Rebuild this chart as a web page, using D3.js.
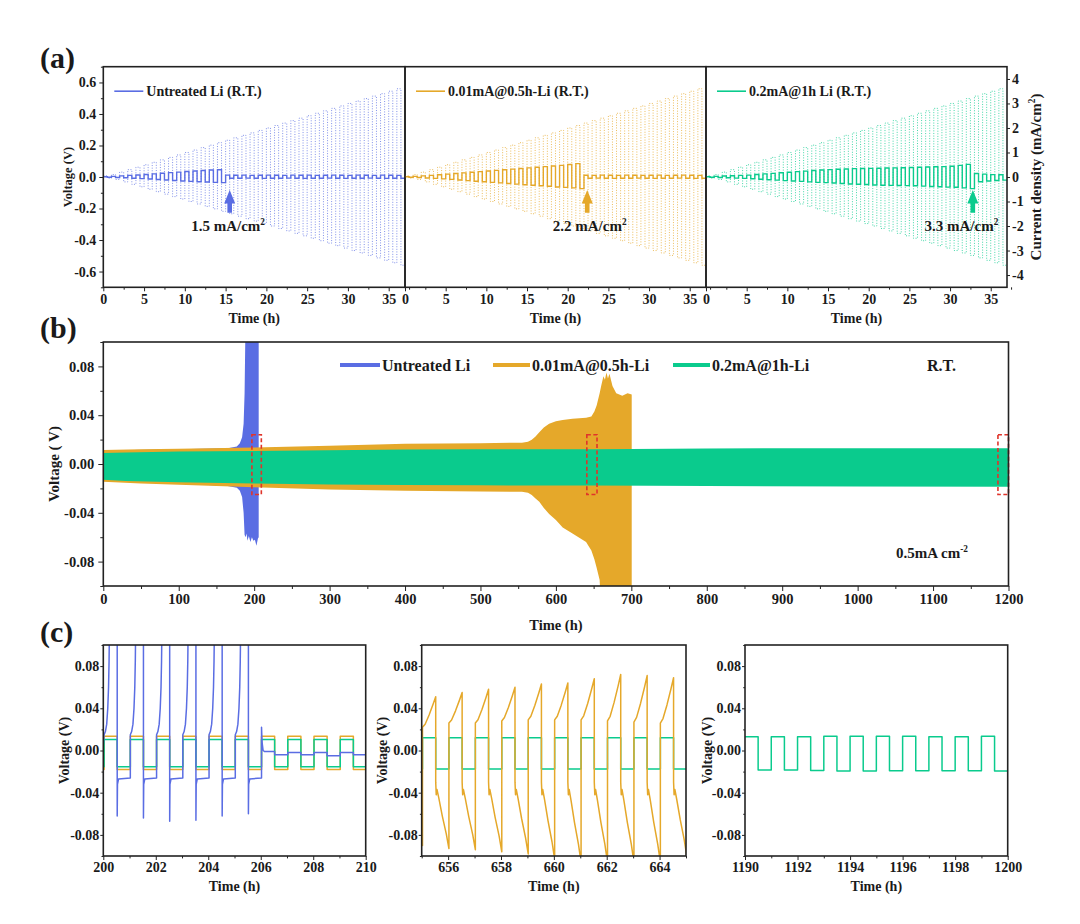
<!DOCTYPE html>
<html><head><meta charset="utf-8">
<script src="https://cdn.jsdelivr.net/npm/d3@7/dist/d3.min.js"></script>
<style>
body{margin:0;background:#fff;}
svg text{font-family:"Liberation Serif","Times New Roman",serif;font-weight:bold;fill:#1a1a1a;}
</style></head>
<body><svg id="chart" width="1080" height="924"></svg>
<script>
// ================= DATA =================
const seriesNames = ["Untreated Li", "0.01mA@0.5h-Li", "0.2mA@1h-Li"];
const seriesColors = ["#5A6DE3", "#E5A82A", "#0ACB8D"];
const rateLegend = ["Untreated Li (R.T.)", "0.01mA@0.5h-Li (R.T.)", "0.2mA@1h Li (R.T.)"];
const criticalText = ["1.5 mA/cm", "2.2 mA/cm", "3.3 mA/cm"];
const criticalTime = [15.5, 22.4, 32.8];
const criticalLabelTime = [15.3, 22.7, 31.4];

// (a) rate test: current density per 1-h cycle (mA/cm2)
const rateCurrent = [0.05,0.1,0.2,0.3,0.4,0.5,0.6,0.7,0.8,0.9,1.0,1.1,1.2,1.3,1.4,1.5,1.6,1.7,1.8,1.9,2.0,2.1,2.2,2.3,2.4,2.5,2.6,2.7,2.8,2.9,3.0,3.1,3.2,3.3,3.4,3.5,3.6];
// (a) voltage plateaus per cycle (V)
const rateHighUntreated = [0.002,0.004,0.007,0.010,0.013,0.016,0.020,0.024,0.028,0.031,0.035,0.038,0.041,0.044,0.046,
  0.012,0.011,0.012,0.010,0.011,0.012,0.011,0.010,0.012,0.011,0.012,0.010,0.011,0.012,0.011,0.010,0.012,0.011,0.010,0.012,0.011,0.010];
const rateLowUntreated = [-0.002,-0.003,-0.005,-0.008,-0.010,-0.013,-0.016,-0.019,-0.022,-0.025,-0.028,-0.030,-0.032,-0.034,-0.036,
  -0.008,-0.008,-0.007,-0.008,-0.009,-0.008,-0.008,-0.007,-0.008,-0.009,-0.008,-0.008,-0.007,-0.008,-0.009,-0.008,-0.008,-0.007,-0.008,-0.009,-0.008,-0.008];
const rateHighMid = [0.002,0.004,0.007,0.010,0.014,0.018,0.022,0.026,0.030,0.034,0.038,0.042,0.046,0.050,0.054,0.058,0.062,0.066,0.070,0.074,0.079,0.085,
  0.011,0.010,0.012,0.011,0.010,0.012,0.011,0.010,0.011,0.012,0.010,0.011,0.012,0.011,0.010];
const rateLowMid = [-0.002,-0.003,-0.006,-0.009,-0.012,-0.015,-0.019,-0.023,-0.027,-0.030,-0.034,-0.037,-0.041,-0.045,-0.049,-0.052,-0.056,-0.059,-0.063,-0.066,-0.069,-0.074,
  -0.008,-0.007,-0.008,-0.009,-0.008,-0.008,-0.007,-0.008,-0.009,-0.008,-0.008,-0.007,-0.008,-0.009,-0.008];
const rateHighTreated = [0.002,0.004,0.006,0.008,0.010,0.012,0.016,0.020,0.023,0.027,0.030,0.034,0.037,0.041,0.044,0.047,0.049,0.051,0.053,0.054,
  0.055,0.056,0.057,0.058,0.059,0.060,0.062,0.063,0.065,0.066,0.068,0.074,0.080,0.022,0.018,0.015,0.014];
const rateLowTreated = [-0.002,-0.003,-0.005,-0.007,-0.009,-0.011,-0.014,-0.017,-0.020,-0.023,-0.025,-0.028,-0.031,-0.034,-0.036,-0.038,-0.041,-0.044,-0.046,-0.048,
  -0.051,-0.052,-0.053,-0.054,-0.055,-0.056,-0.058,-0.060,-0.062,-0.064,-0.065,-0.069,-0.074,-0.030,-0.025,-0.022,-0.020];

const aTimeTicks = [0,5,10,15,20,25,30,35];
const aVoltTicks = [-0.6,-0.4,-0.2,0,0.2,0.4,0.6];
const aCurrentTicks = [-4,-3,-2,-1,0,1,2,3,4];

// (b) long cycling envelopes: [time h, upper V, lower V]
const bandUntreated = [[0,0.011,-0.014],[100,0.012,-0.016],[165,0.013,-0.018],[177,0.0143,-0.0195],[181,0.017,-0.022],[184,0.022,-0.027],
  [186,0.033,-0.040],[187.3,0.058,-0.058],[188.6,0.12,-0.060],[190,0.12,-0.057],[191,0.12,-0.063],[193,0.12,-0.059],[195,0.12,-0.064],
  [197,0.12,-0.060],[199,0.12,-0.063],[201,0.12,-0.062],[203,0.12,-0.067],[205,0.12,-0.061],[206,0.12,-0.060]];
const bandMid = [[0,0.0115,-0.0145],[50,0.012,-0.016],[100,0.0125,-0.017],[200,0.0135,-0.019],[300,0.015,-0.021],[400,0.0165,-0.022],
  [500,0.017,-0.0225],[555,0.0175,-0.0228],[563,0.0182,-0.0235],[568,0.0198,-0.0255],[573,0.0225,-0.0282],[578,0.026,-0.031],
  [584,0.030,-0.036],[591,0.0330,-0.041],[600,0.035,-0.046],[609,0.036,-0.052],
  [622,0.037,-0.057],[640,0.038,-0.064],[647,0.039,-0.071],[651,0.043,-0.078],[654,0.048,-0.085],[658,0.058,-0.095],[660,0.064,-0.12],
  [663,0.072,-0.12],[665,0.069,-0.12],[667,0.075,-0.12],[669,0.070,-0.12],[671,0.074,-0.12],[675,0.064,-0.12],[680,0.058,-0.12],
  [688,0.056,-0.12],[695,0.058,-0.12],[700.5,0.057,-0.12]];
const bandTreated = [[0,0.009,-0.013],[30,0.0095,-0.014],[100,0.0102,-0.015],[200,0.0107,-0.016],[300,0.0113,-0.0168],[400,0.0118,-0.0172],
  [500,0.012,-0.0175],[650,0.012,-0.0176],[800,0.0128,-0.018],[1000,0.013,-0.0185],[1200,0.013,-0.0186]];
const zoomWindows = [[197,209.5],[641,654.5],[1186,1200]];
const zoomWindowVolt = [-0.025, 0.024];
const bTimeTicks = [0,100,200,300,400,500,600,700,800,900,1000,1100,1200];
const bVoltTicks = [-0.08,-0.04,0,0.04,0.08];

// (c) zoomed voltage profiles
const c1Cycles = [199,200,201,202,203,204,205,206,207,208,209];
const c1MidHigh = 0.0135, c1MidLow = -0.018;
const c1TreatedHigh = 0.0105, c1TreatedLow = -0.0155;
const c1BlueSpikeCycles = [200,201,202,203,204,205];
const c1BlueSpikeLow = [-0.062,-0.064,-0.067,-0.066,-0.062,-0.060];
const c1BluePlateau = -0.026;
const c1BlueRise = [[0,0.015],[0.05,0.018],[0.10,0.025],[0.14,0.040],[0.17,0.060],[0.19,0.085],[0.21,0.13],[0.50,0.13]];
const c1BluePostCycles = [206,207,208,209];
const c1BluePostHigh = [-0.001,-0.002,-0.002,-0.002];
const c1BluePostLow = [-0.004,-0.004,-0.005,-0.004];
const c1BluePostSpike = 0.022;

const c2Cycles = [654,655,656,657,658,659,660,661,662,663,664];
const c2SawStart = [0.022,0.022,0.026,0.026,0.028,0.029,0.029,0.029,0.028,0.027,0.026];
const c2SawPeak = [0.050,0.051,0.055,0.058,0.060,0.063,0.064,0.068,0.072,0.071,0.069];
const c2SawMin = [-0.090,-0.093,-0.094,-0.096,-0.098,-0.103,-0.106,-0.106,-0.106,-0.106,-0.100];
const c2TreatedHigh = 0.012, c2TreatedLow = -0.0176;

const c3Cycles = [1190,1191,1192,1193,1194,1195,1196,1197,1198,1199];
const c3TreatedHigh = [0.013,0.013,0.013,0.0135,0.0135,0.0135,0.0135,0.013,0.013,0.0135];
const c3TreatedLow = [-0.0186,-0.0186,-0.019,-0.0195,-0.0195,-0.0192,-0.0192,-0.0192,-0.0192,-0.0195];

const cTicks = [[200,202,204,206,208,210],[656,658,660,662,664],[1190,1192,1194,1196,1198,1200]];
const cDomains = [[200,210],[655,665],[1190,1200]];
const cVoltTicks = [-0.08,-0.04,0,0.04,0.08];

// ================= HELPERS =================
const FONT = '"Liberation Serif","Times New Roman",serif';
const svg = d3.select("#chart");
const defs = svg.append("defs");
let clipN = 0;
function clip(x0,y0,x1,y1){
  const id = "clip"+(clipN++);
  defs.append("clipPath").attr("id",id).append("rect").attr("x",x0).attr("y",y0).attr("width",x1-x0).attr("height",y1-y0);
  return `url(#${id})`;
}
function addText(x,y,str,size,anchor,rot){
  const t = svg.append("text").attr("x",x).attr("y",y).attr("font-size",size).attr("text-anchor",anchor||"start").text(str);
  if(rot) t.attr("transform",`rotate(-90,${x},${y})`);
  return t;
}
function supText(x,y,parts,size,anchor,rot){
  const t = svg.append("text").attr("x",x).attr("y",y).attr("font-size",size).attr("text-anchor",anchor||"start");
  let up = false;
  parts.forEach(([s,sup])=>{
    const sp = t.append("tspan").text(s);
    if(sup && !up){ sp.attr("font-size",size*0.62).attr("dy",-size*0.4); up=true; }
    else if(!sup && up){ sp.attr("dy",size*0.4); up=false; }
    else if(sup) sp.attr("font-size",size*0.62);
  });
  if(rot) t.attr("transform",`rotate(-90,${x},${y})`);
  return t;
}
function drawAxis(kind, scale, pos, ticks, fmt, size, pad, fontSize, minor){
  const mk = kind==="bottom"?d3.axisBottom:kind==="left"?d3.axisLeft:d3.axisRight;
  const tr = kind==="bottom"?`translate(0,${pos})`:`translate(${pos},0)`;
  if(minor){
    const gm = svg.append("g").attr("transform",tr).call(mk(scale).tickValues(minor).tickSize(size*0.6).tickFormat(""));
    gm.select(".domain").remove();
    gm.selectAll("line").attr("stroke","#222").attr("stroke-width",1);
  }
  const g = svg.append("g").attr("transform",tr)
    .call(mk(scale).tickValues(ticks).tickSize(size).tickPadding(pad).tickFormat(fmt));
  g.attr("font-family", FONT);
  g.select(".domain").remove();
  g.selectAll("line").attr("stroke","#222").attr("stroke-width",1);
  g.selectAll("text").attr("font-size",fontSize).attr("fill","#1a1a1a").attr("font-family",FONT).attr("font-weight","bold");
  return g;
}
function frame(x0,y0,x1,y1){
  svg.append("rect").attr("x",x0).attr("y",y0).attr("width",x1-x0).attr("height",y1-y0)
    .attr("fill","none").attr("stroke","#222").attr("stroke-width",1.6);
}
function squarePoints(highs, lows, start, offset){
  const pts = [];
  highs.forEach((h,i)=>{ pts.push([start+i+offset, h]); pts.push([start+i+offset+0.5, lows[i]]); });
  pts.push([start+highs.length+offset, lows[lows.length-1]]);
  return pts;
}
const fmt1 = d => d.toFixed(1);
const fmt2 = d => d.toFixed(2);
const fmtInt = d => String(d);
const minorBetween = (a,b,step) => d3.range(a, b+step/2, step);

// ================= PANEL (a) =================
const A = {top:66.7, bottom:287.3, xs:[[103.3,405],[405,706],[706,1007]], tmax:37};
const yV = d3.scaleLinear().domain([-0.7,0.7]).range([A.bottom, A.top]);
const yI = d3.scaleLinear().domain([-4.5,4.5]).range([A.bottom, A.top]);
const aVolt = [[rateHighUntreated,rateLowUntreated],[rateHighMid,rateLowMid],[rateHighTreated,rateLowTreated]];

aVolt.forEach(([hi,lo],i)=>{
  const [x0,x1] = A.xs[i];
  const x = d3.scaleLinear().domain([0,A.tmax]).range([x0,x1]);
  const col = seriesColors[i];
  const g = svg.append("g").attr("clip-path", clip(x0,A.top,x1,A.bottom));
  const cur = squarePoints(rateCurrent, rateCurrent.map(v=>-v), 0, 0);
  g.append("path").attr("d", d3.line().x(d=>x(d[0])).y(d=>yI(d[1])).curve(d3.curveStepAfter)(cur))
    .attr("fill","none").attr("stroke",col).attr("stroke-width",1).attr("stroke-dasharray","1,1.6").attr("opacity",0.75);
  const vp = squarePoints(hi, lo, 0, 0);
  g.append("path").attr("d", d3.line().x(d=>x(d[0])).y(d=>yV(d[1])).curve(d3.curveStepAfter)(vp))
    .attr("fill","none").attr("stroke",col).attr("stroke-width",1.4);
  frame(x0,A.top,x1,A.bottom);
  drawAxis("bottom", x, A.bottom, aTimeTicks, fmtInt, 4, 3, 14, minorBetween(2.5,37,5));
  addText((x0+x1)/2, 323, "Time (h)", 14, "middle");
  svg.append("line").attr("x1",x0+11).attr("x2",x0+40).attr("y1",A.top+24.5).attr("y2",A.top+24.5)
    .attr("stroke",col).attr("stroke-width",1.6);
  addText(x0+43, A.top+29.5, rateLegend[i], 14, "start");
  const ax = x(criticalTime[i]);
  const tip = yV(-0.083), hb = yV(-0.168), tail = yV(-0.227);
  const p = d3.path();
  p.moveTo(ax, tip); p.lineTo(ax+5.5, hb); p.lineTo(ax+2.3, hb); p.lineTo(ax+2.3, tail);
  p.lineTo(ax-2.3, tail); p.lineTo(ax-2.3, hb); p.lineTo(ax-5.5, hb); p.closePath();
  svg.append("path").attr("d", p.toString()).attr("fill", col);
  supText(x(criticalLabelTime[i]), yV(-0.34), [[criticalText[i],false],["2",true]], 15, "middle");
});
{
  drawAxis("left", yV, A.xs[0][0], aVoltTicks, fmt1, 4, 3, 14, minorBetween(-0.7,0.7,0.1).filter(v=>Math.abs(Math.round(v*10))%2===1));
  drawAxis("right", yI, A.xs[2][1], aCurrentTicks, fmtInt, 3, 2, 14);
  addText(72, (A.top+A.bottom)/2, "Voltage (V)", 12.5, "middle", true);
  supText(1041, (A.top+A.bottom)/2, [["Current density (mA/cm",false],["2",true],[")",false]], 15, "middle", true);
}
addText(40, 67.5, "(a)", 30, "start");

// ================= PANEL (b) =================
const B = {left:103.3, right:1008.5, top:342, bottom:586};
const xB = d3.scaleLinear().domain([0,1200]).range([B.left,B.right]);
const yB = d3.scaleLinear().domain([-0.1,0.1]).range([B.bottom,B.top]);
const area = d3.area().x(d=>xB(d[0])).y0(d=>yB(d[2])).y1(d=>yB(d[1]));
const gb = svg.append("g").attr("clip-path", clip(B.left,B.top,B.right,B.bottom));
[bandUntreated, bandMid, bandTreated].forEach((band,i)=>{
  gb.append("path").attr("d", area(band)).attr("fill", seriesColors[i]);
});
zoomWindows.forEach(([t0,t1])=>{
  svg.append("rect").attr("x",xB(t0)).attr("y",yB(zoomWindowVolt[1])).attr("width",xB(t1)-xB(t0))
    .attr("height",yB(zoomWindowVolt[0])-yB(zoomWindowVolt[1]))
    .attr("fill","none").attr("stroke","#E0342B").attr("stroke-width",1.6).attr("stroke-dasharray","4,2.5");
});
frame(B.left,B.top,B.right,B.bottom);
drawAxis("bottom", xB, B.bottom, bTimeTicks, fmtInt, 5, 3, 14.5, minorBetween(50,1150,100));
drawAxis("left", yB, B.left, bVoltTicks, fmt2, 5, 4, 14.5, [-0.1,-0.06,-0.02,0.02,0.06,0.1]);
addText(59, (B.top+B.bottom)/2, "Voltage ( V)", 15, "middle", true);
addText((B.left+B.right)/2, 630, "Time (h)", 14.5, "middle");
const bLegendX = [[340,380],[493,530],[673,710]];
seriesNames.forEach((n,i)=>{
  svg.append("line").attr("x1",bLegendX[i][0]).attr("x2",bLegendX[i][1]).attr("y1",365).attr("y2",365)
    .attr("stroke",seriesColors[i]).attr("stroke-width",4);
  addText(bLegendX[i][1]+2, 370.5, n, 16, "start");
});
addText(927, 370.5, "R.T.", 16, "start");
supText(896, 558, [["0.5mA cm",false],["-2",true]], 15, "start");
addText(40, 337.5, "(b)", 30, "start");

// ================= PANEL (c) =================
const C = {top:645, bottom:856, xs:[[103.3,365.7],[421.7,686],[745,1007.7]]};
const yC = d3.scaleLinear().domain([-0.1,0.1]).range([C.bottom,C.top]);
const cTitleX = [69, 387, 712];
const cLine = (x)=>d3.line().x(d=>x(d[0])).y(d=>yC(d[1]));

C.xs.forEach(([x0,x1],i)=>{
  const x = d3.scaleLinear().domain(cDomains[i]).range([x0,x1]);
  const g = svg.append("g").attr("clip-path", clip(x0,C.top,x1,C.bottom));
  const draw = (pts, col, step) => g.append("path")
    .attr("d", (step? cLine(x).curve(d3.curveStepAfter) : cLine(x))(pts))
    .attr("fill","none").attr("stroke",col).attr("stroke-width",1.5).attr("stroke-linejoin","round");
  if(i===0){
    draw(squarePoints(c1Cycles.map(()=>c1MidHigh), c1Cycles.map(()=>c1MidLow), c1Cycles[0], 0.03), seriesColors[1], true);
    draw(squarePoints(c1Cycles.map(()=>c1TreatedHigh), c1Cycles.map(()=>c1TreatedLow), c1Cycles[0], 0.03), seriesColors[2], true);
    const pts = [[199.9, c1BluePlateau]];
    c1BlueSpikeCycles.forEach((k,j)=>{
      const T = k+0.03;
      c1BlueRise.forEach(([dt,v])=>pts.push([T+dt, v]));
      pts.push([T+0.5, c1BlueSpikeLow[j]]);
      pts.push([T+0.51, -0.032]);
      pts.push([T+0.55, -0.027]);
      pts.push([T+1.0, c1BluePlateau]);
    });
    c1BluePostCycles.forEach((k,j)=>{
      const T = k+0.03;
      if(j===0){ pts.push([T, c1BluePostSpike]); pts.push([T+0.02,0.008]); pts.push([T+0.06,0.0]); pts.push([T+0.12,c1BluePostHigh[0]]); }
      else pts.push([T, c1BluePostHigh[j]]);
      pts.push([T+0.5, c1BluePostHigh[j]]);
      pts.push([T+0.5, c1BluePostLow[j]]);
      pts.push([T+1.0, c1BluePostLow[j]]);
    });
    draw(pts, seriesColors[0], false);
  } else if(i===1){
    draw(squarePoints(c2Cycles.map(()=>c2TreatedHigh), c2Cycles.map(()=>c2TreatedLow), c2Cycles[0], 0.03), seriesColors[2], true);
    const pts = [];
    c2Cycles.forEach((k,j)=>{
      const T = k+0.03, s = c2SawStart[j], p = c2SawPeak[j], m = c2SawMin[j];
      pts.push([T, s], [T+0.1, s+0.1*(p-s)], [T+0.25, s+0.4*(p-s)], [T+0.4, s+0.75*(p-s)], [T+0.5, p]);
      pts.push([T+0.5, -0.030], [T+0.52, -0.042], [T+0.55, -0.037]);
      const b = -0.037;
      pts.push([T+0.62, b+0.15*(m-b)], [T+0.75, b+0.45*(m-b)], [T+0.9, b+0.75*(m-b)], [T+1.0, m]);
    });
    draw(pts, seriesColors[1], false);
  } else {
    draw(squarePoints(c3TreatedHigh, c3TreatedLow, c3Cycles[0], 0), seriesColors[2], true);
  }
  frame(x0,C.top,x1,C.bottom);
  drawAxis("bottom", x, C.bottom, cTicks[i], fmtInt, 4, 2, 14, i===1? [655,657,659,661,663,665] : minorBetween(cDomains[i][0]+1, cDomains[i][1], 2));
  drawAxis("left", yC, x0, cVoltTicks, fmt2, 3, 1, 14, [-0.1,-0.06,-0.02,0.02,0.06,0.1]);
  addText(cTitleX[i], (C.top+C.bottom)/2, "Voltage (V)", 14, "middle", true);
  addText((x0+x1)/2, 891, "Time (h)", 14, "middle");
});
addText(40, 642, "(c)", 30, "start");
</script>
</body></html>
